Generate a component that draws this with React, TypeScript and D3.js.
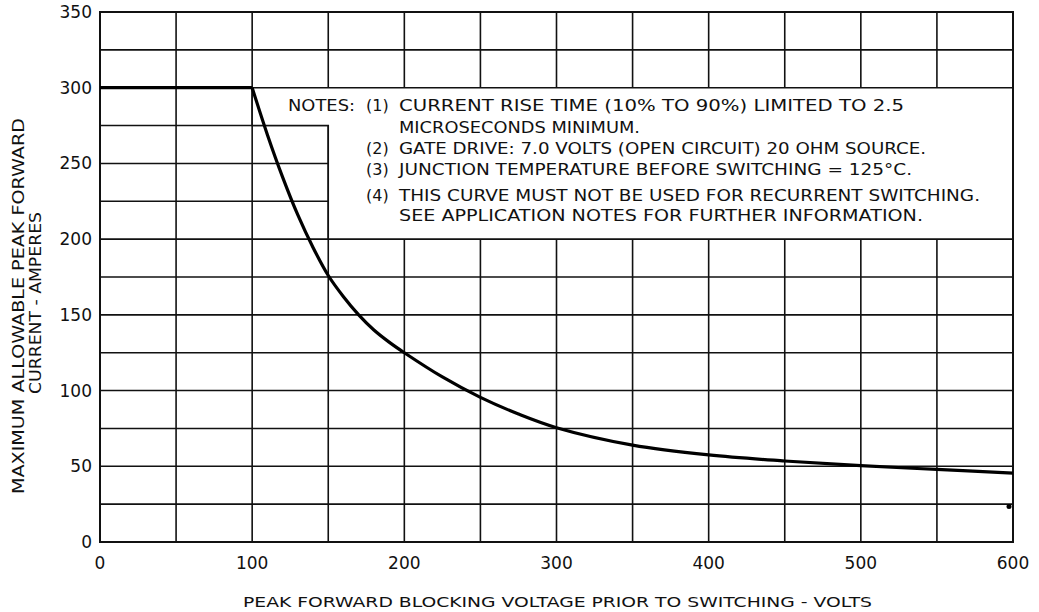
import React from "react";
import * as d3 from "d3";

const voltage = [0, 100, 110, 120, 130, 140, 150, 160, 170, 180, 190, 200, 225, 250, 275, 300, 350, 400, 450, 500, 550, 600];
const current = [300, 300, 269, 241, 216, 194.5, 176, 162, 150, 140, 132, 125, 109, 95.5, 84.5, 75.5, 64, 57.5, 53.5, 50.4, 47.9, 45.5];

const xGrid = [0, 50, 100, 150, 200, 250, 300, 350, 400, 450, 500, 550, 600];
const yGrid = [0, 25, 50, 75, 100, 125, 150, 175, 200, 225, 250, 275, 300, 325, 350];
const xTickLabels = [0, 100, 200, 300, 400, 500, 600];
const yTickLabels = [0, 50, 100, 150, 200, 250, 300, 350];

// notes box outline in data coords
const boxV = [100, 600, 600, 150, 150, 100];
const boxC = [300, 300, 200, 200, 275, 275];

const endMarkV = [600];
const endMarkC = [23.5];

const notes = [
  { label: "", text: "CURRENT RISE TIME (10% TO 90%) LIMITED TO 2.5", y: 111, end: 904 },
  { label: "", text: "MICROSECONDS MINIMUM.", y: 133, end: 640 },
  { label: "(2)", text: "GATE DRIVE: 7.0 VOLTS (OPEN CIRCUIT) 20 OHM SOURCE.", y: 154, end: 926 },
  { label: "(3)", text: "JUNCTION TEMPERATURE BEFORE SWITCHING = 125°C.", y: 175, end: 912 },
  { label: "(4)", text: "THIS CURVE MUST NOT BE USED FOR RECURRENT SWITCHING.", y: 201, end: 980 },
  { label: "", text: "SEE APPLICATION NOTES FOR FURTHER INFORMATION.", y: 221, end: 923 },
];

const W = 1039;
const H = 612;
const left = 100, right = 1013, top = 12, bottom = 542;
const FONT = "'DejaVu Sans', 'Liberation Sans', sans-serif";

export default function App() {
  const x = d3.scaleLinear().domain([0, 600]).range([left, right]);
  const y = d3.scaleLinear().domain([0, 350]).range([bottom, top]);

  const idx = voltage.map((_, i) => i);
  const flatIdx = idx.filter((i) => voltage[i] <= 100);
  const fallIdx = idx.filter((i) => voltage[i] >= 100);

  const flatPath =
    d3.line<number>().x((i) => x(voltage[i])).y((i) => y(current[i]))(flatIdx) || "";
  const fallPath =
    d3
      .line<number>()
      .x((i) => x(voltage[i]))
      .y((i) => y(current[i]))
      .curve(d3.curveCatmullRom.alpha(0.5))(fallIdx) || "";

  const boxPath =
    d3.line<number>().x((_, i) => x(boxV[i])).y((_, i) => y(boxC[i]))(boxV) + "Z";

  const ink = "#111";
  const textX = 399;

  return (
    <svg
      width={W}
      height={H}
      style={{ position: "absolute", left: 0, top: 0, background: "#fff" }}
      fontFamily={FONT}
    >
      <rect x={0} y={0} width={W} height={H} fill="#fff" />
      {/* grid */}
      {xGrid.map((v) => (
        <line key={"gx" + v} x1={x(v)} x2={x(v)} y1={y(0)} y2={y(350)} stroke={ink} strokeWidth={1.6} />
      ))}
      {yGrid.map((v) => (
        <line key={"gy" + v} x1={x(0)} x2={x(600)} y1={y(v)} y2={y(v)} stroke={ink} strokeWidth={1.6} />
      ))}
      {/* notes box */}
      <path d={boxPath} fill="#fff" stroke={ink} strokeWidth={1.6} />
      {/* border */}
      <rect x={x(0)} y={y(350)} width={x(600) - x(0)} height={y(0) - y(350)} fill="none" stroke={ink} strokeWidth={2} />
      {/* curve */}
      <path d={flatPath} fill="none" stroke="#000" strokeWidth={3.2} strokeLinecap="butt" />
      <path d={fallPath} fill="none" stroke="#000" strokeWidth={3.2} strokeLinejoin="round" />
      {endMarkV.map((v, i) => (
        <circle key={"m" + i} cx={x(v) - 4} cy={y(endMarkC[i])} r={2.5} fill="#000" />
      ))}
      {/* tick labels */}
      {yTickLabels.map((v) => (
        <text key={"yl" + v} x={92} y={y(v) + 6} textAnchor="end" fontSize={17} fill={ink}>
          {v}
        </text>
      ))}
      {xTickLabels.map((v) => (
        <text key={"xl" + v} x={x(v)} y={569} textAnchor="middle" fontSize={17} fill={ink}>
          {v}
        </text>
      ))}
      {/* axis titles */}
      <text x={243} y={607} fontSize={14.5} fill={ink} textLength={629} lengthAdjust="spacingAndGlyphs">
        PEAK FORWARD BLOCKING VOLTAGE PRIOR TO SWITCHING - VOLTS
      </text>
      <text
        transform="translate(24,306) rotate(-90)"
        textAnchor="middle"
        fontSize={15}
        fill={ink}
        textLength={376}
        lengthAdjust="spacingAndGlyphs"
      >
        MAXIMUM ALLOWABLE PEAK FORWARD
      </text>
      <text
        transform="translate(41,303) rotate(-90)"
        textAnchor="middle"
        fontSize={15}
        fill={ink}
        textLength={182}
        lengthAdjust="spacingAndGlyphs"
      >
        CURRENT - AMPERES
      </text>
      {/* notes */}
      <text x={288} y={111} fontSize={16} fill={ink} textLength={67} lengthAdjust="spacingAndGlyphs">
        NOTES:
      </text>
      <text x={366} y={111} fontSize={16} fill={ink}>
        (1)
      </text>
      {notes.map((n, i) => (
        <g key={"n" + i}>
          {n.label && (
            <text x={366} y={n.y} fontSize={16} fill={ink}>
              {n.label}
            </text>
          )}
          <text x={textX} y={n.y} fontSize={16} fill={ink} textLength={n.end - textX} lengthAdjust="spacingAndGlyphs">
            {n.text}
          </text>
        </g>
      ))}
    </svg>
  );
}
